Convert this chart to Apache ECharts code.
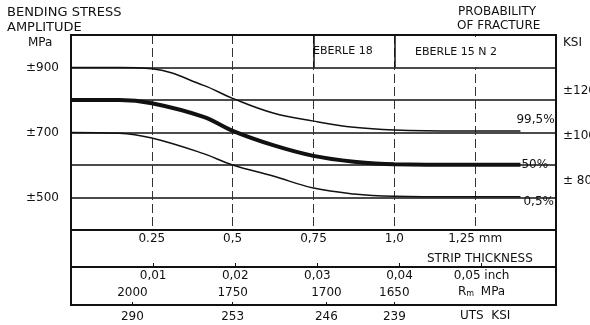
<!DOCTYPE html>
<html>
<head>
  <meta charset="UTF-8">
  <script src="https://cdn.jsdelivr.net/npm/echarts@6.0.0/dist/echarts.min.js"></script>
  <style>
    html, body { margin: 0; padding: 0; background: #fff; }
    #main { width: 590px; height: 325px; }
  </style>
</head>
<body>
  <div id="main"></div>
  <script>
    // strip thickness (mm) where the curves were read
    var thickness = [0, 0.15, 0.25, 0.41, 0.5, 0.625, 0.75, 0.875, 1.0, 1.2, 1.39];
    // bending stress amplitude (MPa) for each probability of fracture
    var p995 = [900, 900, 896, 845, 805, 760, 735, 716, 708, 705, 705];
    var p50  = [800, 800, 790, 748, 705, 661, 628, 610, 602, 601, 601];
    var p05  = [700, 698, 683, 635, 600, 566, 529, 511, 504, 502, 502];

    // axis ticks and labels
    var mmTicks = [0.25, 0.5, 0.75, 1.0, 1.25];
    var mmLabels = ['0.25', '0,5', '0,75', '1,0', '1,25 mm'];
    var inchTicks = [0.01, 0.02, 0.03, 0.04, 0.05];
    var inchLabels = ['0,01', '0,02', '0,03', '0,04', '0,05 inch'];
    var rmPos = [0.19, 0.5, 0.79, 1.0];       // mm position of each strength value
    var rmLabels = ['2000', '1750', '1700', '1650'];
    var utsLabels = ['290', '253', '246', '239'];
    var mpaTicks = [500, 700, 900];
    var ksiTicks = [80, 100, 120];
    var ksiLabels = ['\u00b1 80', '\u00b1100', '\u00b1120'];
    var headerLines = [0.75, 1.0];

    var MPA_PER_KSI = 6.894757;
    var FONT = 'DejaVu Sans';
    var INK = '#111';

    function pairs(ys) {
      return thickness.map(function (t, i) { return [t, ys[i]]; });
    }
    function lookup(ticks, labels) {
      return function (v) {
        for (var i = 0; i < ticks.length; i++) {
          if (Math.abs(ticks[i] - v) < 1e-6) return labels[i];
        }
        return '';
      };
    }

    var myChart = echarts.init(document.getElementById('main'));

    myChart.setOption({
      animation: false,
      backgroundColor: '#fff',
      textStyle: { fontFamily: FONT, color: INK },
      grid: { left: 71, right: 34, top: 35, bottom: 95, outerBoundsMode: 'none', containLabel: false },
      xAxis: [
        { // mm
          type: 'value', min: 0, max: 1.5, interval: 0.25, position: 'bottom',
          axisLine: { lineStyle: { color: INK, width: 2 } },
          axisTick: { show: false },
          splitLine: { show: true, lineStyle: { color: '#333', width: 1, type: [9, 4] } },
          axisLabel: { customValues: mmTicks, formatter: lookup(mmTicks, mmLabels),
                       margin: 3, fontSize: 12, fontFamily: FONT, color: INK }
        },
        { // inch
          type: 'value', min: 0, max: 1.5 / 25.4, position: 'bottom', offset: 37,
          axisLine: { lineStyle: { color: INK, width: 2 } },
          axisTick: { show: true, inside: true, length: 4, customValues: inchTicks, lineStyle: { color: INK } },
          splitLine: { show: false },
          axisLabel: { customValues: inchTicks, formatter: lookup(inchTicks, inchLabels),
                       margin: 3, fontSize: 12, fontFamily: FONT, color: INK }
        },
        { // Rm MPa
          type: 'value', min: 0, max: 1.5, position: 'bottom', offset: 75,
          axisLine: { lineStyle: { color: INK, width: 2 } },
          axisTick: { show: true, inside: true, length: 3, customValues: rmPos, lineStyle: { color: INK } },
          splitLine: { show: false },
          axisLabel: { inside: true, customValues: rmPos, formatter: lookup(rmPos, rmLabels),
                       margin: 6, fontSize: 12, fontFamily: FONT, color: INK }
        },
        { // UTS KSI
          type: 'value', min: 0, max: 1.5, position: 'bottom', offset: 75,
          axisLine: { show: false },
          axisTick: { show: false },
          splitLine: { show: false },
          axisLabel: { customValues: rmPos, formatter: lookup(rmPos, utsLabels),
                       margin: 6, fontSize: 12, fontFamily: FONT, color: INK }
        }
      ],
      yAxis: [
        {
          type: 'value', min: 400, max: 1000, interval: 100, position: 'left',
          axisLine: { show: true, lineStyle: { color: INK, width: 2 } },
          axisTick: { show: false },
          splitLine: { show: true, lineStyle: { color: INK, width: 1.6 } },
          axisLabel: { customValues: mpaTicks, formatter: function (v) { return '\u00b1' + v; },
                       margin: 12, fontSize: 12, fontFamily: FONT, color: INK }
        },
        {
          type: 'value', min: 400 / MPA_PER_KSI, max: 1000 / MPA_PER_KSI, position: 'right',
          axisLine: { show: true, lineStyle: { color: INK, width: 2 } },
          axisTick: { show: false },
          splitLine: { show: false },
          axisLabel: { customValues: ksiTicks, formatter: lookup(ksiTicks, ksiLabels),
                       margin: 7, fontSize: 12, fontFamily: FONT, color: INK }
        }
      ],
      series: [
        {
          name: '99,5%', type: 'line', data: pairs(p995), smooth: 0.4, symbol: 'none',
          lineStyle: { color: INK, width: 1.5 },
          endLabel: { show: true, formatter: '99,5%', distance: 0, offset: [-4, -11],
                      fontSize: 12, fontFamily: FONT, color: INK },
          markLine: {
            silent: true, symbol: ['none', 'none'], label: { show: false },
            lineStyle: { type: 'solid', color: INK, width: 1.5 },
            data: headerLines.map(function (x) { return [{ coord: [x, 900] }, { coord: [x, 1000] }]; })
          }
        },
        {
          name: '50%', type: 'line', data: pairs(p50), smooth: 0.4, symbol: 'none',
          lineStyle: { color: INK, width: 4 },
          endLabel: { show: true, formatter: '50%', distance: 1, fontSize: 12, fontFamily: FONT, color: INK }
        },
        {
          name: '0,5%', type: 'line', data: pairs(p05), smooth: 0.4, symbol: 'none',
          lineStyle: { color: INK, width: 1.5 },
          endLabel: { show: true, formatter: '0,5%', distance: 3, offset: [0, 5],
                      fontSize: 12, fontFamily: FONT, color: INK }
        }
      ],
      graphic: [
        // the 15 N 2 header cell has no grid line through it
        { type: 'rect', shape: { x: 397, y: 37, width: 157, height: 30 },
          style: { fill: '#fff' }, z: 5 },
        { type: 'rect', shape: { x: 71, y: 35, width: 485, height: 270 },
          style: { fill: 'none', stroke: INK, lineWidth: 2 }, z: 10 },
        { type: 'text', left: 7, top: 6, style: { text: 'BENDING STRESS', font: '13px ' + FONT, fill: INK } },
        { type: 'text', left: 7, top: 21, style: { text: 'AMPLITUDE', font: '13px ' + FONT, fill: INK } },
        { type: 'text', left: 28, top: 37, style: { text: 'MPa', font: '12px ' + FONT, fill: INK } },
        { type: 'text', left: 458, top: 6, style: { text: 'PROBABILITY', font: '12px ' + FONT, fill: INK } },
        { type: 'text', left: 457, top: 20, style: { text: 'OF FRACTURE', font: '12px ' + FONT, fill: INK } },
        { type: 'text', left: 563, top: 37, style: { text: 'KSI', font: '12px ' + FONT, fill: INK } },
        { type: 'text', left: 313, top: 46, style: { text: 'EBERLE 18', font: '11px ' + FONT, fill: INK } },
        { type: 'text', left: 415, top: 47, z: 6, style: { text: 'EBERLE 15 N 2', font: '11px ' + FONT, fill: INK } },
        { type: 'text', left: 427, top: 253, style: { text: 'STRIP THICKNESS', font: '12px ' + FONT, fill: INK } },
        { type: 'text', left: 458, top: 286, style: {
            text: '{a|R}{b|m}  {a|MPa}', fill: INK,
            rich: { a: { fontFamily: FONT, fontSize: 12, color: INK },
                    b: { fontFamily: FONT, fontSize: 8, color: INK, padding: [4, 0, 0, 0] } } } },
        { type: 'text', left: 460, top: 310, style: { text: 'UTS  KSI', font: '12px ' + FONT, fill: INK } }
      ]
    });
  </script>
</body>
</html>
